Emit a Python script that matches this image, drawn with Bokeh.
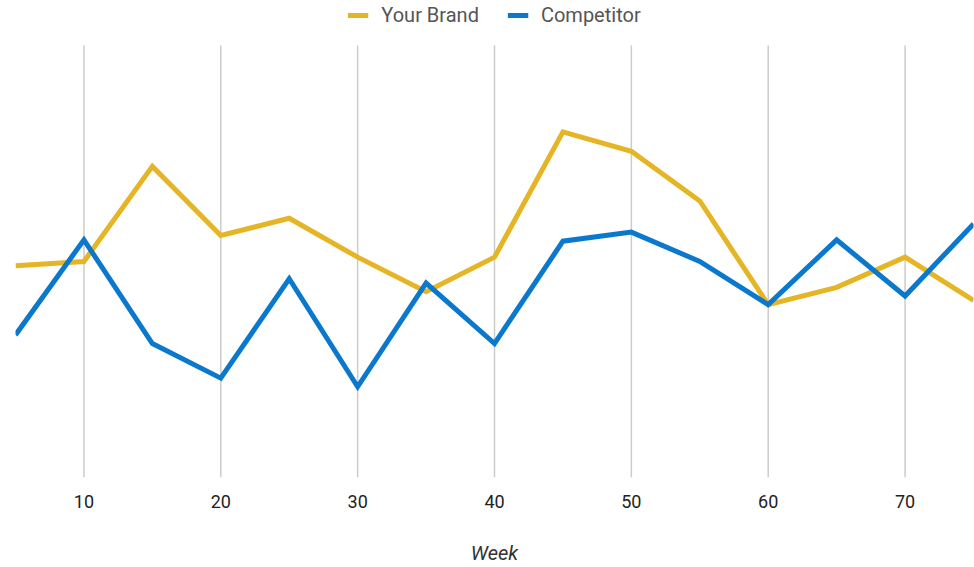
from bokeh.plotting import figure
from bokeh.models import Range1d, Legend, LegendItem, FixedTicker, ColumnDataSource
from bokeh.embed import file_html
from bokeh.resources import INLINE

weeks = [5, 10, 15, 20, 25, 30, 35, 40, 45, 50, 55, 60, 65, 70, 75]
your_brand = [49, 50, 72, 56, 60, 51, 43, 51, 80, 75.5, 64, 40, 44, 51, 41]
competitor = [33, 55, 31, 23, 46, 21, 45, 31, 54.7, 56.8, 50, 40, 55, 42, 58.7]
x_ticks = [10, 20, 30, 40, 50, 60, 70]
grid_bottom = [0] * len(x_ticks)
grid_top = [100] * len(x_ticks)

YELLOW = "#E5B526"
BLUE = "#0A78CC"
FONT = "Roboto"

src = ColumnDataSource(dict(week=weeks, yb=your_brand, comp=competitor))
gsrc = ColumnDataSource(dict(x=x_ticks, y0=grid_bottom, y1=grid_top))

p = figure(width=974, height=567, output_backend="svg", toolbar_location=None,
           x_range=Range1d(5, 75), y_range=Range1d(0, 110.4),
           min_border_left=15, min_border_right=1, min_border_top=0, min_border_bottom=0)
p.outline_line_color = None
p.background_fill_color = "white"
p.border_fill_color = "white"
p.xgrid.visible = False
p.ygrid.visible = False
p.yaxis.visible = False

p.segment(x0="x", y0="y0", x1="x", y1="y1", source=gsrc, line_color="#cccccc", line_width=1.5)

r1 = p.line("week", "yb", source=src, line_color=YELLOW, line_width=5, line_join="miter")
r2 = p.line("week", "comp", source=src, line_color=BLUE, line_width=5, line_join="miter")

ax = p.xaxis[0]
ax.ticker = FixedTicker(ticks=x_ticks)
ax.axis_line_color = None
ax.major_tick_line_color = None
ax.minor_tick_line_color = None
ax.major_label_text_font = FONT
ax.major_label_text_font_size = "18px"
ax.major_label_text_color = "#222222"
ax.major_label_standoff = 11
ax.axis_label = "Week"
ax.axis_label_text_font = FONT
ax.axis_label_text_font_style = "italic"
ax.axis_label_text_font_size = "20px"
ax.axis_label_text_color = "#333333"
ax.axis_label_standoff = 30

legend = Legend(items=[LegendItem(label="Your Brand", renderers=[r1]),
                       LegendItem(label="Competitor", renderers=[r2])],
                orientation="horizontal", location="top_center",
                label_text_font=FONT, label_text_font_size="20px",
                label_text_color="#555555", glyph_width=21, glyph_height=18,
                label_standoff=13, spacing=28, padding=2, margin=3,
                border_line_color=None, background_fill_alpha=0)
p.add_layout(legend)

open("out.html", "w").write(file_html(p, INLINE))
